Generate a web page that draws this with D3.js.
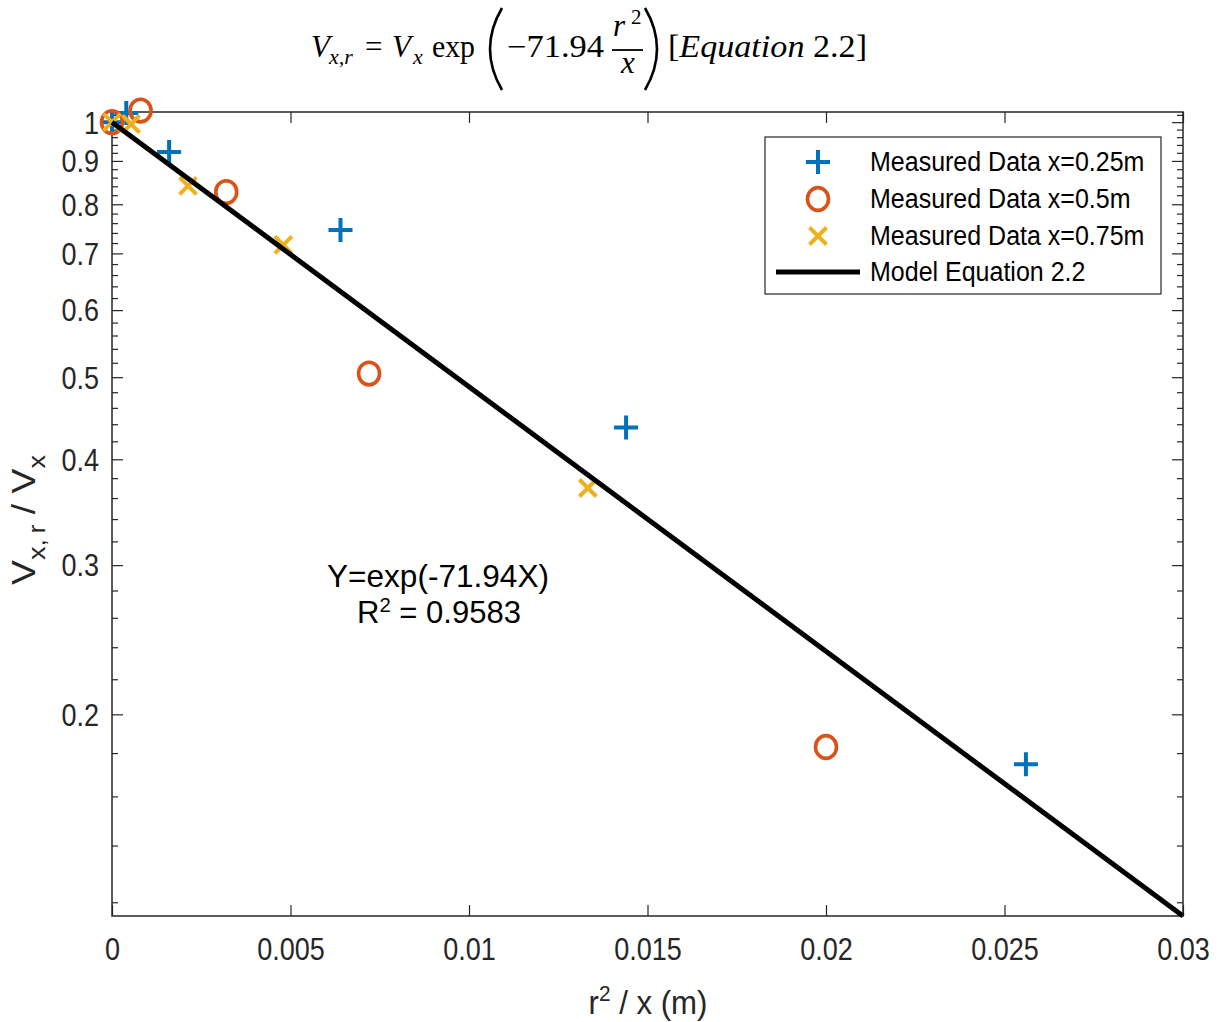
<!DOCTYPE html>
<html>
<head>
<meta charset="utf-8">
<script src="https://cdn.jsdelivr.net/npm/d3@7"></script>
<style>
  html, body { margin: 0; padding: 0; background: #fff; }
  svg { display: block; }
</style>
</head>
<body>
<svg id="chart" width="1221" height="1022"></svg>
<script>
// ---------- data ----------
const seriesNames = ["Measured Data x=0.25m", "Measured Data x=0.5m", "Measured Data x=0.75m", "Model Equation 2.2"];
const x025 = [0, 0.0004, 0.0016, 0.0064, 0.0144, 0.0256];
const y025 = [1.0, 1.025, 0.922, 0.746, 0.436, 0.1746];
const x050 = [0, 0.0008, 0.0032, 0.0072, 0.02];
const y050 = [1.0, 1.032, 0.827, 0.505, 0.183];
const x075 = [0, 0.000533, 0.00213, 0.0048, 0.01333];
const y075 = [1.0, 0.995, 0.841, 0.7165, 0.370];
const modelX = [0, 0.03];
const modelY = [1.0, 0.1156];
const xTickValues = [0, 0.005, 0.01, 0.015, 0.02, 0.025, 0.03];
const xTickLabels = ["0", "0.005", "0.01", "0.015", "0.02", "0.025", "0.03"];
const yMajorTicks = [0.2, 0.3, 0.4, 0.5, 0.6, 0.7, 0.8, 0.9, 1];
const yMajorLabels = ["0.2", "0.3", "0.4", "0.5", "0.6", "0.7", "0.8", "0.9", "1"];
const yMinorTicks = [0.12, 0.14, 0.16, 0.18, 0.22, 0.24, 0.26, 0.28, 0.32, 0.34, 0.36, 0.38,
  0.42, 0.44, 0.46, 0.48, 0.52, 0.54, 0.56, 0.58, 0.62, 0.64, 0.66, 0.68, 0.72, 0.74, 0.76, 0.78,
  0.82, 0.84, 0.86, 0.88, 0.92, 0.94, 0.96, 0.98, 1.02];
const xDomain = [0, 0.03];
const yDomain = [0.1156, 1.028];

// ---------- layout ----------
const L = 112, R = 1183, T = 112, B = 916;
const axisColor = "#262626";
const blue = "#0072BD", orange = "#D95319", yellow = "#EDB120";
const sans = "'Liberation Sans', Arial, Helvetica, sans-serif";
const serif = "'Liberation Serif', 'Times New Roman', serif";

const svg = d3.select("#chart");
const x = d3.scaleLinear().domain(xDomain).range([L, R]);
const y = d3.scaleLog().domain(yDomain).range([B, T]);

// ---------- axes ----------
const gAx = svg.append("g");
const bottom = gAx.append("g").attr("transform", `translate(0,${B})`)
  .call(d3.axisBottom(x).tickValues(xTickValues).tickFormat((d, i) => xTickLabels[i]).tickSizeInner(-11).tickSizeOuter(0).tickPadding(22));
gAx.append("g").attr("transform", `translate(0,${T})`)
  .call(d3.axisTop(x).tickValues(xTickValues).tickFormat("").tickSizeInner(-11).tickSizeOuter(0));
const left = gAx.append("g").attr("transform", `translate(${L},0)`)
  .call(d3.axisLeft(y).tickValues(yMajorTicks).tickFormat((d, i) => yMajorLabels[i]).tickSizeInner(-11).tickSizeOuter(0).tickPadding(13));
gAx.append("g").attr("transform", `translate(${L},0)`)
  .call(d3.axisLeft(y).tickValues(yMinorTicks).tickFormat("").tickSizeInner(-6).tickSizeOuter(0));
gAx.append("g").attr("transform", `translate(${R},0)`)
  .call(d3.axisRight(y).tickValues(yMajorTicks).tickFormat("").tickSizeInner(-11).tickSizeOuter(0));
gAx.append("g").attr("transform", `translate(${R},0)`)
  .call(d3.axisRight(y).tickValues(yMinorTicks).tickFormat("").tickSizeInner(-6).tickSizeOuter(0));

gAx.selectAll(".domain").remove();
gAx.selectAll(".tick line").attr("stroke", axisColor).attr("stroke-width", 1.2);
gAx.selectAll(".tick text").attr("fill", axisColor).style("font-family", sans).style("font-size", "27px");
bottom.selectAll(".tick text").attr("dy", "0.71em");
left.selectAll(".tick text").attr("dy", "0.35em");
// measure at 27px then enlarge to 31px keeping width (condensed look)
gAx.selectAll(".tick text").each(function () {
  const len = this.getComputedTextLength();
  d3.select(this).style("font-size", "31px").attr("textLength", len).attr("lengthAdjust", "spacingAndGlyphs");
});

// frame
svg.append("rect").attr("x", L).attr("y", T).attr("width", R - L).attr("height", B - T)
  .attr("fill", "none").attr("stroke", axisColor).attr("stroke-width", 1.5);

// ---------- marks ----------
const gMarks = svg.append("g");
function plus(g, cx, cy, s, col, w) {
  g.append("path").attr("d", `M${cx - s},${cy}H${cx + s}M${cx},${cy - s}V${cy + s}`)
    .attr("stroke", col).attr("stroke-width", w).attr("fill", "none");
}
function cross(g, cx, cy, s, col, w) {
  g.append("path").attr("d", `M${cx - s},${cy - s}L${cx + s},${cy + s}M${cx - s},${cy + s}L${cx + s},${cy - s}`)
    .attr("stroke", col).attr("stroke-width", w).attr("fill", "none");
}
function ring(g, cx, cy, r, col, w) {
  g.append("ellipse").attr("cx", cx).attr("cy", cy).attr("rx", r).attr("ry", r * 1.08)
    .attr("stroke", col).attr("stroke-width", w).attr("fill", "none");
}
x025.forEach((v, i) => plus(gMarks, x(v), y(y025[i]), 12, blue, 4));
x050.forEach((v, i) => ring(gMarks, x(v), y(y050[i]), 10.5, orange, 3.6));
x075.forEach((v, i) => cross(gMarks, x(v), y(y075[i]), 8.5, yellow, 4));

const line = d3.line().x(d => x(d[0])).y(d => y(d[1]));
svg.append("path").datum(modelX.map((v, i) => [v, modelY[i]]))
  .attr("d", line).attr("stroke", "#000").attr("stroke-width", 5).attr("fill", "none");

// ---------- legend ----------
const lg = svg.append("g");
lg.append("rect").attr("x", 765).attr("y", 137).attr("width", 396).attr("height", 157)
  .attr("fill", "#fff").attr("stroke", axisColor).attr("stroke-width", 1.2);
const rowY = [162, 199, 236, 272];
plus(lg, 818, rowY[0], 12, blue, 4);
ring(lg, 818, rowY[1], 10.5, orange, 3.6);
cross(lg, 818, rowY[2], 8.5, yellow, 4);
lg.append("line").attr("x1", 776).attr("x2", 860).attr("y1", rowY[3]).attr("y2", rowY[3])
  .attr("stroke", "#000").attr("stroke-width", 5);
const legTexts = lg.selectAll("text.lab").data(seriesNames).join("text").attr("class", "lab")
  .attr("x", 870).attr("y", (d, i) => rowY[i]).attr("dy", "0.35em")
  .style("font-family", sans).style("font-size", "25px").attr("fill", "#000").text(d => d);
legTexts.each(function () {
  const len = this.getComputedTextLength();
  d3.select(this).style("font-size", "27px").attr("textLength", len).attr("lengthAdjust", "spacingAndGlyphs");
});

// ---------- annotation ----------
const ann = svg.append("g").style("font-family", sans).style("font-size", "32px").attr("fill", "#000");
ann.append("text").attr("x", 438).attr("y", 587).attr("text-anchor", "middle")
  .attr("textLength", 222).attr("lengthAdjust", "spacingAndGlyphs").text("Y=exp(-71.94X)");
const r2 = ann.append("text").attr("x", 439).attr("y", 623).attr("text-anchor", "middle")
  .attr("textLength", 164).attr("lengthAdjust", "spacingAndGlyphs");
r2.append("tspan").text("R");
r2.append("tspan").attr("dy", -11).style("font-size", "21px").text("2");
r2.append("tspan").attr("dy", 11).text(" = 0.9583");

// ---------- axis labels ----------
const xl = svg.append("text").attr("x", 648).attr("y", 1014).attr("text-anchor", "middle")
  .style("font-family", sans).style("font-size", "33px").attr("fill", axisColor)
  .attr("textLength", 119).attr("lengthAdjust", "spacingAndGlyphs");
xl.append("tspan").text("r");
xl.append("tspan").attr("dy", -13).style("font-size", "22px").text("2");
xl.append("tspan").attr("dy", 13).text(" / x (m)");

const yl = svg.append("text").attr("transform", `translate(35,${(T + B) / 2 + 6}) rotate(-90)`)
  .attr("text-anchor", "middle").style("font-family", sans).style("font-size", "33px").attr("fill", axisColor)
  .attr("textLength", 130).attr("lengthAdjust", "spacingAndGlyphs");
yl.append("tspan").text("V");
yl.append("tspan").attr("dy", 10).style("font-size", "24px").text("x,\u2009r");
yl.append("tspan").attr("dy", -10).text(" / V");
yl.append("tspan").attr("dy", 10).style("font-size", "24px").text("x");

// ---------- title equation ----------
const tg = svg.append("g").style("font-family", serif).attr("fill", "#000");
function t(xp, yp, str, size, italic, anchor) {
  return tg.append("text").attr("x", xp).attr("y", yp).attr("text-anchor", anchor || "start")
    .style("font-size", size + "px").style("font-style", italic ? "italic" : "normal").text(str);
}
t(311, 57, "V", 31, true);
t(329, 64, "x,r", 22, true);
t(365, 57, "=", 31, false);
t(392, 57, "V", 31, true);
t(413, 64, "x", 22, true);
t(432, 57, "exp", 31, false).attr("textLength", 43).attr("lengthAdjust", "spacingAndGlyphs");
tg.append("path").attr("d", "M502,8 Q478,49 502,90").attr("stroke", "#000").attr("stroke-width", 2.6).attr("fill", "none");
t(507, 57, "\u221271.94", 31, false).attr("textLength", 97).attr("lengthAdjust", "spacingAndGlyphs");
t(613, 36, "r", 31, true);
t(631, 24, "2", 21, false);
tg.append("line").attr("x1", 612).attr("x2", 643).attr("y1", 50).attr("y2", 50).attr("stroke", "#000").attr("stroke-width", 1.8);
t(628, 73, "x", 31, true, "middle");
tg.append("path").attr("d", "M645,8 Q669,49 645,90").attr("stroke", "#000").attr("stroke-width", 2.6).attr("fill", "none");
const eq = tg.append("text").attr("x", 668).attr("y", 57).style("font-size", "31px")
  .attr("textLength", 199).attr("lengthAdjust", "spacingAndGlyphs");
eq.append("tspan").text("[");
eq.append("tspan").style("font-style", "italic").text("Equation");
eq.append("tspan").text(" 2.2]");
</script>
</body>
</html>
